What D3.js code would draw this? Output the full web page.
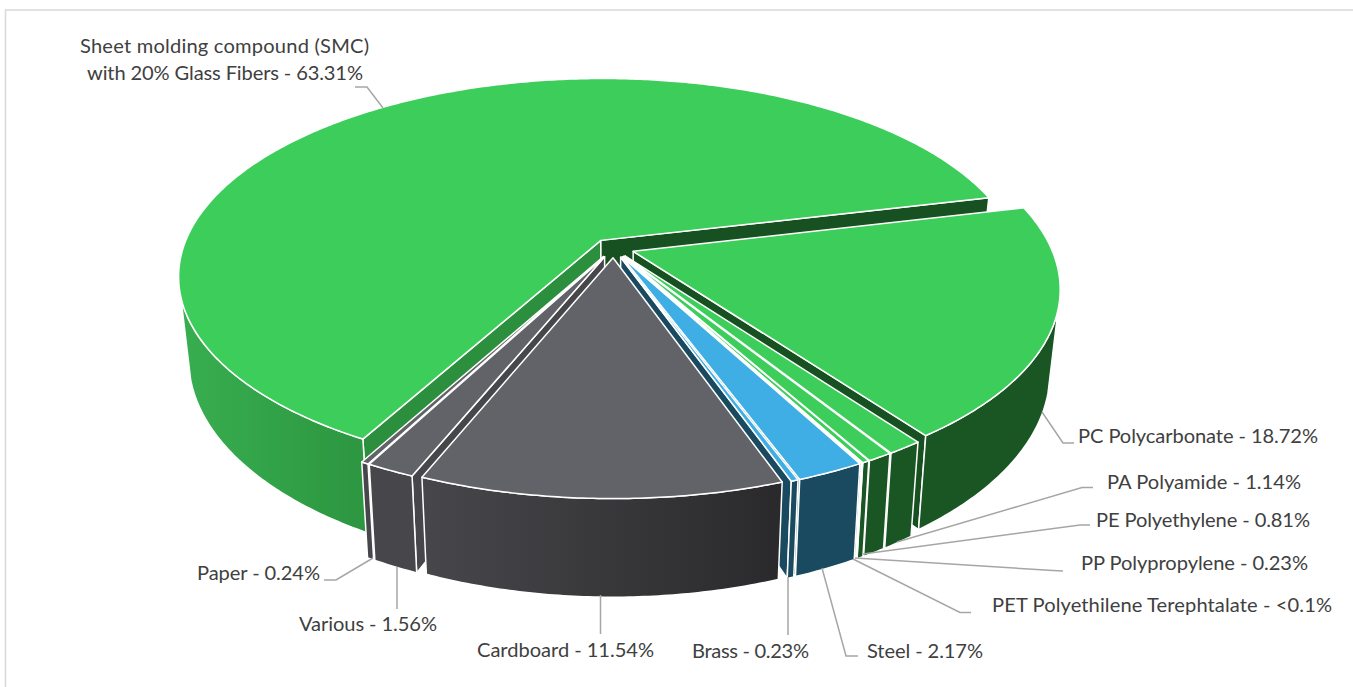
<!DOCTYPE html>
<html>
<head>
<meta charset="utf-8">
<title>Material shares</title>
<script src="https://cdn.jsdelivr.net/npm/d3@7"></script>
<style>
  html, body { margin: 0; padding: 0; background: #fff; }
  svg { display: block; }
  text { font-family: Lato, "Open Sans", sans-serif; font-size: 20.1px; fill: #404040; }
</style>
</head>
<body>
<svg id="chart" width="1353" height="687"></svg>
<script>
// Values (PET is shown as <0.1, the rest of 100% is about 0.05)
const materials = ['SMC', 'PC', 'PA', 'PE', 'PP', 'PET', 'Steel', 'Brass', 'Cardboard', 'Various', 'Paper'];
const shares = [63.31, 18.72, 1.14, 0.81, 0.23, 0.05, 2.17, 0.23, 11.54, 1.56, 0.24];
const labelLines = [
  ['Sheet molding compound (SMC)', 'with 20% Glass Fibers - 63.31%'],
  ['PC Polycarbonate - 18.72%'],
  ['PA Polyamide - 1.14%'],
  ['PE Polyethylene - 0.81%'],
  ['PP Polypropylene - 0.23%'],
  ['PET Polyethilene Terephtalate - <0.1%'],
  ['Steel - 2.17%'],
  ['Brass - 0.23%'],
  ['Cardboard - 11.54%'],
  ['Various - 1.56%'],
  ['Paper - 0.24%']
];

// Colours per slice
const topColors = ['#3ccd5a', '#3ccd5a', '#3ccd5a', '#3ccd5a', '#3ccd5a', '#3ccd5a', '#3eaee4', '#3eaee4', '#626368', '#626368', '#626368'];
const wallColors = ['url(#smcWall)', '#1a5524', '#1a5524', '#1a5524', '#1a5524', '#1a5524', '#1a4a60', '#1a4a60', 'url(#cardWall)', '#47474b', '#47474b'];
const startWallColors = ['#2c8f3e', '#1a5524', '#1a5524', '#1a5524', '#1a5524', '#1a5524', '#1a4a60', '#1a4a60', '#47474b', '#47474b', '#47474b'];
const endWallColors = ['#175021', '#175021', '#1a5524', '#1a5524', '#1a5524', '#1a5524', '#1a4a60', '#1a4a60', '#47474b', '#47474b', '#47474b'];

// Label placement: text left edge, baseline and width, then the leader polyline
const labelPos = [
  { x: [80, 87], y: [53, 80], w: [289, 276], leader: [[355, 87], [367, 87], [383, 108]] },
  { x: [1078], y: [443], w: [240], leader: [[1074, 443], [1063, 443], [1042, 412]] },
  { x: [1107], y: [489], w: [194], leader: [[1093, 487.5], [1082, 487.5], [897, 542]] },
  { x: [1096], y: [527], w: [214], leader: [[1090, 525], [1080, 525], [863, 554]] },
  { x: [1081], y: [570], w: [227], leader: [[1063, 571], [1053, 570.5], [855, 558]] },
  { x: [992], y: [612], w: [340], leader: [[971, 612.5], [960, 612.5], [853, 559]] },
  { x: [867], y: [658], w: [116], leader: [[858, 656], [846, 656], [822, 568]] },
  { x: [692], y: [658], w: [117], leader: [[788, 577], [788, 635]] },
  { x: [477], y: [657], w: [177], leader: [[600.5, 595], [600.5, 634]] },
  { x: [299], y: [631], w: [138], leader: [[397, 567], [397, 609]] },
  { x: [197], y: [580], w: [123], leader: [[324, 580], [336, 580], [373, 558]] }
];

const svg = d3.select('#chart');

// Outer frame, only top and left show in the crop
svg.append('path')
  .attr('d', 'M1353,10H5.5V687')
  .attr('fill', 'none')
  .attr('stroke', '#d9d9d9')
  .attr('stroke-width', 1.6);

const defs = svg.append('defs');
function wallGradient(id, x1, x2, from, to) {
  const g = defs.append('linearGradient')
    .attr('id', id)
    .attr('gradientUnits', 'userSpaceOnUse')
    .attr('x1', x1).attr('x2', x2).attr('y1', 0).attr('y2', 0);
  g.append('stop').attr('offset', 0).attr('stop-color', from);
  g.append('stop').attr('offset', 1).attr('stop-color', to);
}
wallGradient('smcWall', 181, 365, '#38ae50', '#2c9640');
wallGradient('cardWall', 423, 780, '#47474b', '#2a2a2c');

// Pie geometry: perspective projection of an exploded flat pie
const firstAngle = 208.6 * Math.PI / 180;
const origin = [613.5, 248];
const radius = 418;
const squash = 0.463;
const persp = 0.18;
const explode = 0.05;
const thickness = 80;
const taper = 0.023;
const silhouette = 0.27; // rim points further back than this have no visible outer wall

const arcs = d3.pie().sort(null).value(d => d)
  .startAngle(firstAngle)
  .endAngle(firstAngle + 2 * Math.PI)(shares);

function project(slice, r, angle, z) {
  const mid = (slice.startAngle + slice.endAngle) / 2;
  const u = r * Math.sin(angle) + explode * Math.sin(mid);
  const v = -r * Math.cos(angle) - explode * Math.cos(mid);
  const w = 1 - persp * v;
  return [
    origin[0] + radius * u / w * (1 - taper * z),
    origin[1] + squash * radius * v / w + thickness * z / w
  ];
}

function arcAngles(slice) {
  const n = Math.max(2, Math.ceil((slice.endAngle - slice.startAngle) / 0.01));
  return d3.range(n + 1).map(i => slice.startAngle + (slice.endAngle - slice.startAngle) * i / n);
}

const poly = d3.line().curve(d3.curveLinearClosed);

function facePath(g, points, fill) {
  g.append('path')
    .attr('d', poly(points))
    .attr('fill', fill)
    .attr('stroke', '#fff')
    .attr('stroke-width', 1.5)
    .attr('stroke-linejoin', 'round');
}

function cutWall(g, s, angle, fill) {
  facePath(g, [project(s, 0, angle, 0), project(s, 1, angle, 0), project(s, 1, angle, 1), project(s, 0, angle, 1)], fill);
}

// Paint back to front, the listed paint order follows the pie going forward
const paintOrder = [0, 1, 2, 3, 4, 5, 6, 7, 10, 9, 8];
paintOrder.forEach(i => {
  const s = arcs[i];
  const g = svg.append('g').attr('class', 'slice-' + materials[i]);
  const angles = arcAngles(s);

  // a cut wall only shows when it faces the viewer
  if (Math.sin(s.startAngle) < 0) cutWall(g, s, s.startAngle, startWallColors[i]);
  if (Math.sin(s.endAngle) > 0) cutWall(g, s, s.endAngle, endWallColors[i]);

  // outer wall, front part of the rim only
  const front = angles.filter(a => -Math.cos(a) > silhouette);
  if (front.length > 1) {
    const upper = front.map(a => project(s, 1, a, 0));
    const lower = front.map(a => project(s, 1, a, 1)).reverse();
    facePath(g, upper.concat(lower), wallColors[i]);
  }

  // top face
  const rim = angles.map(a => project(s, 1, a, 0));
  facePath(g, [project(s, 0, s.startAngle, 0)].concat(rim), topColors[i]);
});

// Leader lines and labels
const lineGen = d3.line();
labelPos.forEach((p, i) => {
  svg.append('path')
    .attr('d', lineGen(p.leader))
    .attr('fill', 'none')
    .attr('stroke', '#a6a6a6')
    .attr('stroke-width', 1.5);
  labelLines[i].forEach((t, j) => {
    svg.append('text')
      .attr('x', p.x[j])
      .attr('y', p.y[j])
      .attr('textLength', p.w[j])
      .text(t);
  });
});
</script>
</body>
</html>
